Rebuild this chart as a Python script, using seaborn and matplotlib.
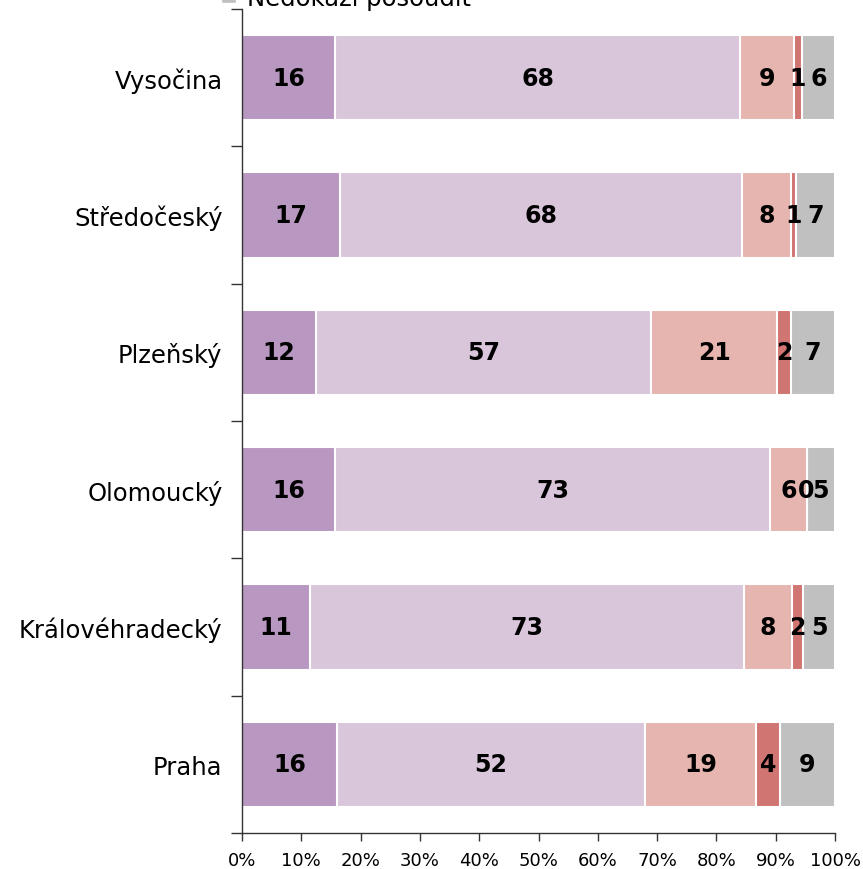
import matplotlib
matplotlib.use("Agg")
import matplotlib.pyplot as plt
import seaborn as sns
import numpy as np
import pandas as pd
from matplotlib.patches import Patch
from matplotlib.ticker import FixedLocator, PercentFormatter

regions = ["Vysočina", "Středočeský", "Plzeňský", "Olomoucký", "Královéhradecký", "Praha"]
series_names = ["Rozhodně ano", "Spíše ano", "Spíše ne", "Rozhodně ne", "Nedokáži posoudit"]
rozhodne_ano = [15.7, 16.6, 12.4, 15.7, 11.4, 16.0]
spise_ano = [68.3, 67.8, 56.6, 73.4, 73.3, 52.0]
spise_ne = [9.1, 8.1, 21.2, 6.1, 8.0, 18.7]
rozhodne_ne = [1.3, 0.9, 2.4, 0.0, 1.9, 4.0]
nedokazi = [5.6, 6.6, 7.4, 4.8, 5.4, 9.3]
colors = ["#B897C0", "#D9C6DA", "#E6B5AF", "#D07572", "#C0C0C0"]
xticks = [0, 10, 20, 30, 40, 50, 60, 70, 80, 90, 100]

sns.set_theme(style="white")
plt.rcParams["font.family"] = ["DejaVu Sans"]

series = [rozhodne_ano, spise_ano, spise_ne, rozhodne_ne, nedokazi]
vals = np.array(series, dtype=float)
cum = np.cumsum(vals, axis=0)

fig = plt.figure(figsize=(8.63, 8.70), dpi=100)
ax = fig.add_axes([242 / 863, 36 / 870, 593 / 863, 824 / 870])

for i in range(len(series) - 1, -1, -1):
    df = pd.DataFrame({"region": regions, "value": cum[i]})
    sns.barplot(data=df, x="value", y="region", orient="h", color=colors[i],
                width=0.62, edgecolor="white", linewidth=1.5, ax=ax,
                saturation=1, order=regions)

for i in range(len(series)):
    for j in range(len(regions)):
        center = cum[i][j] - vals[i][j] / 2
        ax.text(center, j, f"{series[i][j]:.0f}", ha="center", va="center",
                fontsize=17, fontweight="bold", color="black")

ax.set_xlim(0, 100)
ax.set_ylim(5.5, -0.5)
ax.set_xlabel("")
ax.set_ylabel("")
ax.xaxis.set_major_locator(FixedLocator(xticks))
ax.xaxis.set_major_formatter(PercentFormatter(decimals=0))
ax.yaxis.set_minor_locator(FixedLocator(np.arange(-0.5, 6.0, 1.0)))
ax.tick_params(axis="x", which="major", direction="out", length=6, width=1,
               color="#333333", labelsize=13, pad=7, bottom=True, labelcolor="black")
ax.tick_params(axis="y", which="major", length=0, labelsize=17.5, pad=14, left=True,
               labelcolor="black")
ax.tick_params(axis="y", which="minor", direction="out", length=8, width=1,
               color="#333333", left=True)
for s in ["top", "right"]:
    ax.spines[s].set_visible(False)
for s in ["left", "bottom"]:
    ax.spines[s].set_color("#333333")
    ax.spines[s].set_linewidth(1)

handles = [Patch(facecolor=c, edgecolor="white") for c in colors]
fig.legend(handles, series_names, loc="lower left",
           bbox_to_anchor=(221 / 863, 1 - 11 / 870), bbox_transform=fig.transFigure,
           frameon=False, fontsize=17.5, handlelength=0.6, handleheight=0.5,
           handletextpad=0.45, borderpad=0, borderaxespad=0, labelspacing=0.3,
           labelcolor="black")

fig.savefig("out.png", dpi=100)
